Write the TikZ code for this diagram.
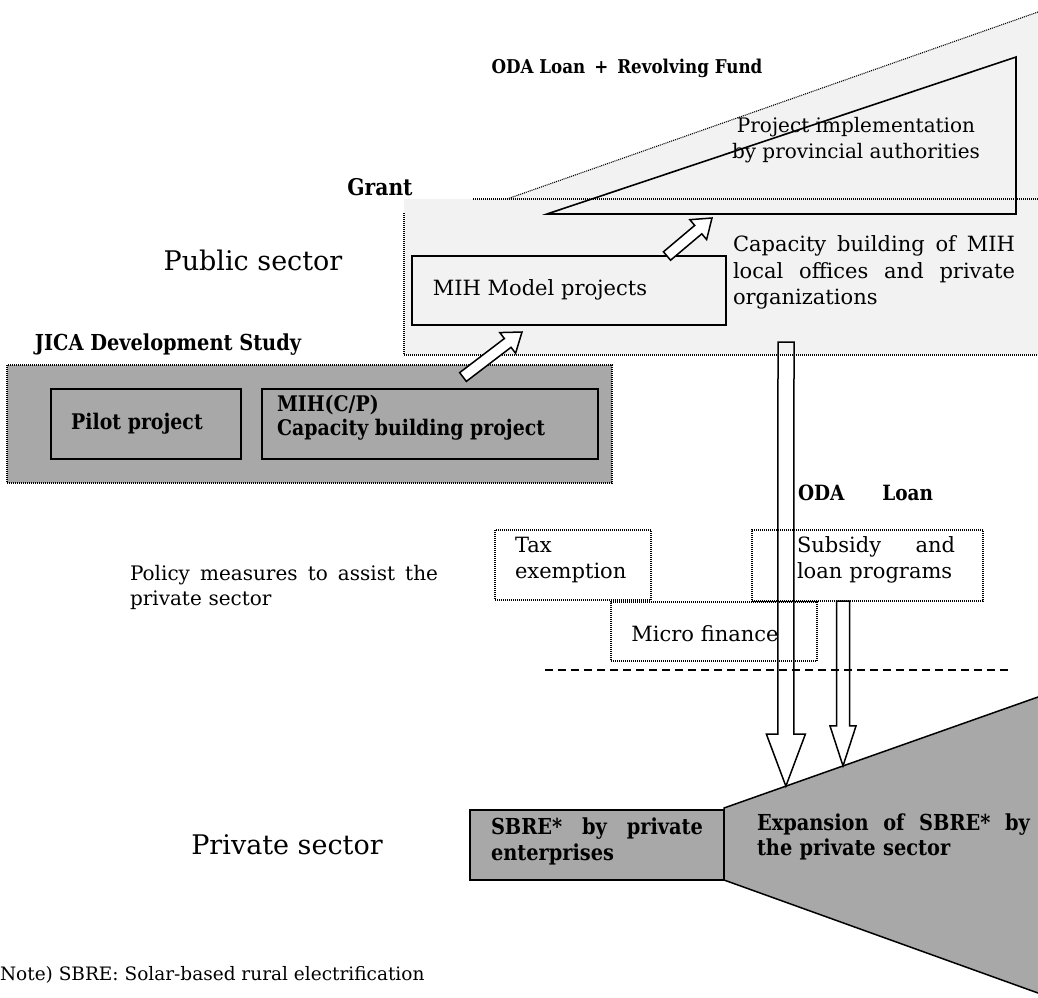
\documentclass[tikz,border=0pt]{standalone}
\usepackage{fontspec}
\setmainfont{DejaVu Serif}[BoldFeatures={FakeStretch=0.88}]
\usetikzlibrary{calc}
\newcommand\harrow[6][]{%
  \coordinate (hb) at ($(#3)!#6!(#2)$);
  \draw[#1] ($(#2)!#4!90:(#3)$) -- ($(hb)!#4!90:(#3)$) -- ($(hb)!#5!90:(#3)$) -- (#3)
    -- ($(hb)!#5!-90:(#3)$) -- ($(hb)!#4!-90:(#3)$) -- ($(#2)!#4!-90:(#3)$) -- cycle;}
\tikzset{
  fs/.style 2 args={font=\fontsize{#1}{#2}\selectfont},
  fsb/.style 2 args={font=\fontsize{#1}{#2}\selectfont\bfseries},
  dotl/.style={line width=1.1pt, dash pattern=on 1pt off 1pt},
  solidbox/.style={draw, line width=1.8pt},
  texture/.style={fill=black!34},
  lightfill/.style={fill=black!5},
  harr/.style={draw, line width=1.5pt, line join=miter},
}
\begin{document}
\begin{tikzpicture}[x=1pt,y=-1pt,every node/.style={inner sep=0pt,outer sep=0pt}]
\useasboundingbox (0,0) rectangle (1038,997);
% ---- public sector region ----
\fill[lightfill] (404,199) rectangle (1038,355);
\fill[lightfill] (507,199) -- (1038,12) -- (1038,199) -- cycle;
\draw[line width=1.6pt, line join=miter] (547,214) -- (1016,57) -- (1016,214) -- cycle;
\draw[dotl] (507,199) -- (1038,12);
\draw[dotl] (473,199) -- (1038,199);
\draw[dotl] (404,213) -- (404,355) -- (1038,355);

\node[fsb={19}{22}] (oda) at (627,68) {ODA Loan \,+\, Revolving Fund};
\node[fs={20}{26}, align=center] (proj) at (856,140) {Project implementation\\by provincial authorities};
\node[fsb={23}{26}] (grant) at (380,187) {Grant};
\node[fs={27}{32}] (pub) at (253,260) {Public sector};

\node[solidbox, minimum width=314pt, minimum height=69pt, anchor=north west] (mih) at (412,256) {};
\node[fs={21}{26}] (mihtxt) at (540,290) {MIH Model projects};
\node[fs={21}{26.5}, text width=282pt, align=left, anchor=north west] (cap) at (733,236)
  {Capacity\hfill building\hfill of\hfill MIH\\local\hfill offices\hfill and\hfill private\\organizations};

% ---- JICA study ----
\node[fsb={22}{26}] (jicat) at (168,345) {JICA Development Study};
\node[draw, dotl, texture, minimum width=605pt, minimum height=118pt, anchor=north west] (jica) at (7,365) {};
\node[solidbox, minimum width=190pt, minimum height=70pt, anchor=north west] (pilot) at (51,389) {};
\node[fsb={21.5}{26}] (pilottxt) at (137,424) {Pilot project};
\node[solidbox, minimum width=336pt, minimum height=70pt, anchor=north west] (mihcp) at (262,389) {};
\node[fsb={21.5}{24}, align=left, anchor=north west] (mihcptxt) at (277,395) {MIH(C/P)\\Capacity building project};

% ---- policy measures ----
\node[fs={20}{25}, text width=308pt, align=left, anchor=north west] (policy) at (130,565)
  {Policy\hfill measures\hfill to\hfill assist\hfill the\\private sector};
\node[draw, dotl, minimum width=156pt, minimum height=70pt, anchor=north west] (tax) at (495,530) {};
\node[fs={21}{26}, align=left, anchor=north west] (taxtxt) at (515,537) {Tax\\exemption};
\node[draw, dotl, minimum width=231pt, minimum height=71pt, anchor=north west] (sub) at (752,530) {};
\node[fs={21}{25.5}, text width=158pt, align=left, anchor=north west] (subtxt) at (797,537) {Subsidy\hfill and\\loan programs};
\node[draw, dotl, minimum width=206pt, minimum height=59pt, anchor=north west] (micro) at (611,602) {};
\node[fs={21}{26}] (microtxt) at (705,634) {Micro finance};
\node[fsb={21}{24}, anchor=west] (odaloan) at (798,493) {ODA\hspace{1.8em}Loan};
\draw[line width=1.2pt, dash pattern=on 8pt off 5pt] (545,670) -- (1012,670);

% ---- private sector ----
\node[solidbox, line width=1.5pt, texture, minimum width=254pt, minimum height=70pt, anchor=north west] (sbre) at (470,810) {};
\coordinate (tl) at (724,808);
\coordinate (tr) at (1038,697);
\coordinate (br) at (1038,993);
\coordinate (bl) at (724,880);
\fill[texture] (tl) -- (tr) -- (br) -- (bl) -- cycle;
\draw[line width=1.5pt] (tr) -- (tl) -- (bl) -- (br);
\node[fsb={22}{26}, text width=212pt, align=left, anchor=north west] (sbretxt) at (491,818)
  {SBRE*\hfill by\hfill private\\enterprises};
\node[fsb={22}{25}, text width=273pt, align=left, anchor=north west] (exptxt) at (757,814)
  {Expansion\hfill of\hfill SBRE*\hfill by\\the private sector};
\node[fs={27}{32}] (priv) at (287,845) {Private sector};
\node[fs={18.5}{22}, anchor=west] (note) at (0,975) {Note) SBRE: Solar-based rural electrification};

% ---- hollow arrows ----
\coordinate (a1s) at (463,377);
\coordinate (a1e) at (522,332);
\harrow[harr, fill=white]{a1s}{a1e}{5.5pt}{13pt}{18pt}
\coordinate (a2s) at (667,256);
\coordinate (a2e) at (712,218);
\harrow[harr, fill=white]{a2s}{a2e}{5.5pt}{13pt}{18pt}
\coordinate (b1e) at ($(tl)!0.197!(tr)$);
\coordinate (b1s) at (786,342);
\harrow[harr]{b1s}{b1e}{8pt}{19.5pt}{52pt}
\coordinate (b2e) at ($(tl)!0.379!(tr)$);
\coordinate (b2s) at (843,601);
\harrow[harr]{b2s}{b2e}{6.5pt}{13pt}{40pt}
\end{tikzpicture}
\end{document}
